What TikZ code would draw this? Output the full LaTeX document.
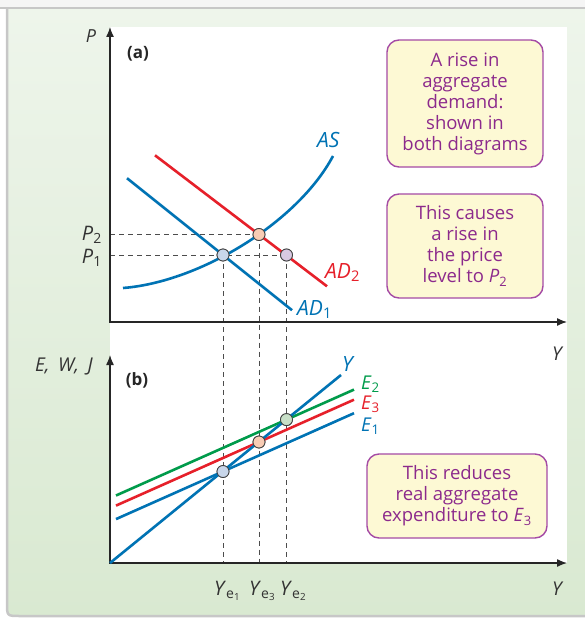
\documentclass[tikz,border=0pt]{standalone}
\usepackage{fontspec}
\setmainfont{Open Sans}
\usetikzlibrary{arrows.meta,positioning}
\definecolor{adblue}{RGB}{0,115,180}
\definecolor{adred}{RGB}{230,32,42}
\definecolor{adgreen}{RGB}{0,155,75}
\definecolor{boxtext}{RGB}{140,42,140}
\definecolor{boxline}{RGB}{165,75,165}
\definecolor{boxfill}{RGB}{253,249,212}
\definecolor{panelA}{RGB}{238,245,235}
\definecolor{panelB}{RGB}{217,233,209}
\definecolor{ptblue}{RGB}{200,214,234}
\definecolor{ptpeach}{RGB}{248,204,180}
\definecolor{ptlilac}{RGB}{216,201,226}
\definecolor{ptgreen}{RGB}{200,224,200}

\begin{document}
\begin{tikzpicture}[x=1pt, y=-1pt,
  font=\fontsize{20}{22}\selectfont,
  axisline/.style={line width=1.3pt, draw=black!85, {Latex[length=10pt,width=8pt]}-{Latex[length=10pt,width=8pt]}},
  curve/.style={line width=2.6pt},
  guide/.style={dash pattern=on 5pt off 4pt, line width=0.9pt, draw=black!70},
  pt/.style={circle, draw=black!75, line width=0.8pt, minimum size=12pt, inner sep=0pt},
  lab/.style={inner sep=0pt, anchor=base west, font=\fontsize{21}{22}\selectfont},
  elab/.style={inner sep=0pt, anchor=base west, font=\fontsize{19}{20}\selectfont},
  ax/.style={inner sep=0pt, text=black!80, font=\fontsize{19}{20}\selectfont\itshape},
  note/.style={draw=boxline, fill=boxfill, rounded corners=12pt, line width=1.4pt, text=boxtext,
    align=center, inner sep=2pt, font=\fontsize{18.5}{21}\selectfont},
  frame/.style={line width=2.5pt, draw=black!22}]
\useasboundingbox (0,0) rectangle (585,618);
\fill[white!96!black] (0,0) rectangle (585,8);
\shade[top color=panelA, bottom color=panelB] (600,8) -- (7,8) -- (7,603) .. controls (7,616) .. (20,616) -- (600,616) -- cycle;
\draw[frame] (7,8) -- (7,603) .. controls (7,616) .. (20,616) -- (600,616);
\draw[frame] (0,8) -- (585,8);
\fill[white] (110,27) rectangle (567,563);

\coordinate (oa) at (110,322);
\coordinate (pa) at (110,27);
\coordinate (ya) at (567,322);
\coordinate (ob) at (110,563);
\coordinate (pb) at (110,355);
\coordinate (yb) at (567,563);
\coordinate (p2) at (110,234.5);
\coordinate (p1) at (110,255);
\coordinate (ye1) at (223,563);
\coordinate (ye3) at (259,563);
\coordinate (ye2) at (286.5,563);

\node[pt, fill=ptblue] (a1) at (223,255) {};
\node[pt, fill=ptpeach] (a2) at (259,234.5) {};
\node[pt, fill=ptlilac] (a3) at (286.5,255) {};
\node[pt, fill=ptblue] (b1) at (223,471.5) {};
\node[pt, fill=ptpeach] (b3) at (259,442) {};
\node[pt, fill=ptgreen] (b2) at (286.5,419.6) {};

\draw[guide] (p2) -- (a2.center);
\draw[guide] (p1) -- (a3.center);
\draw[guide] (a1.center) -- (ye1);
\draw[guide] (a2.center) -- (ye3);
\draw[guide] (a3.center) -- (ye2);

\draw[axisline] (pa) -- (oa) -- (ya);
\draw[axisline] (pb) -- (ob) -- (yb);

\draw[curve, adblue] (123,288) .. controls (200,282) and (298,222) .. (333,156);
\draw[curve, adblue] (127,178.2) -- (292,310.2);
\draw[curve, adred] (155,155.3) -- (327,286.3);

\draw[curve, adgreen] (116,495.5) -- (354,389.6);
\draw[curve, adred] (116,505.6) -- (354,399.7);
\draw[curve, adblue] (116,519.1) -- (354,413.2);
\draw[curve, adblue] (ob) -- (341,375);

\foreach \p/\c in {a1/ptblue, a2/ptpeach, a3/ptlilac, b1/ptblue, b3/ptpeach, b2/ptgreen}
  \node[pt, fill=\c] at (\p) {};

\node[ax, anchor=base, font=\fontsize{18}{20}\selectfont\itshape] (plab) at (91,43) {P};
\node[inner sep=0pt, anchor=base, font=\fontsize{17}{20}\selectfont\bfseries, text=black!85] (alab) at (138,59) {(a)};
\node[ax, anchor=base] (ytop) at (557,360) {Y};
\node[ax, anchor=base east] (ewj) at (93,371) {E,\hspace{0.45em}W,\hspace{0.45em}J};
\node[inner sep=0pt, anchor=base, font=\fontsize{17}{20}\selectfont\bfseries, text=black!85] (blab) at (137,385) {(b)};
\node[ax, anchor=base] (ybot) at (557,595) {Y};

\node[inner sep=0pt, anchor=base east, text=black!80] (p2lab) at (102,240) {\textit{P}\textsubscript{2}};
\node[inner sep=0pt, anchor=base east, text=black!80] (p1lab) at (102,263) {\textit{P}\textsubscript{1}};

\node[lab, text=adblue] (aslab) at (317,147) {\textit{AS}};
\node[lab, text=adred] (ad2lab) at (325,278) {\textit{AD}\textsubscript{2}};
\node[lab, text=adblue] (ad1lab) at (297,315) {\textit{AD}\textsubscript{1}};
\node[lab, text=adblue] (ylab) at (342,371) {\textit{Y}};
\node[elab, text=adgreen] (e2lab) at (361,389) {\textit{E}\textsubscript{2}};
\node[elab, text=adred] (e3lab) at (361,409) {\textit{E}\textsubscript{3}};
\node[elab, text=adblue] (e1lab) at (361,431) {\textit{E}\textsubscript{1}};

\node[lab, text=black!80, font=\fontsize{20}{22}\selectfont] (ye1lab) at (214,595) {\textit{Y}\textsubscript{e\textsubscript{1}}};
\node[lab, text=black!80, font=\fontsize{20}{22}\selectfont] (ye3lab) at (249,595) {\textit{Y}\textsubscript{e\textsubscript{3}}};
\node[lab, text=black!80, font=\fontsize{20}{22}\selectfont] (ye2lab) at (280,595) {\textit{Y}\textsubscript{e\textsubscript{2}}};

\node[note, minimum width=156pt, minimum height=127pt] (rise) at (465,103.5)
  {A rise in\\aggregate\\demand:\\shown in\\both diagrams};
\node[note, minimum width=156pt, minimum height=104pt] (cause) at (465,246)
  {This causes\\a rise in\\the price\\level to \textit{P}\textsubscript{2}};
\node[note, minimum width=180pt, minimum height=84pt] (reduce) at (457,496)
  {This reduces\\real aggregate\\expenditure to \textit{E}\textsubscript{3}};
\end{tikzpicture}
\end{document}
